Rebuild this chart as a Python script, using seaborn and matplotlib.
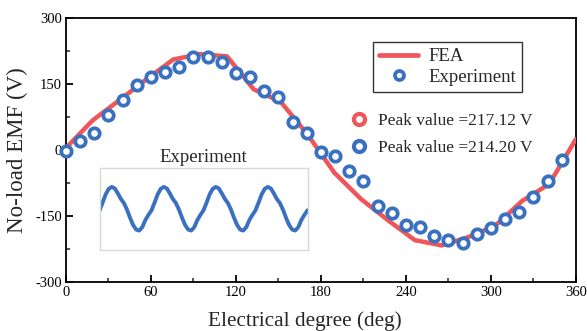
import matplotlib
matplotlib.use("Agg")
import matplotlib.pyplot as plt
import seaborn as sns
import pandas as pd
from matplotlib.lines import Line2D

# ---- data ----
fea_deg = [0, 18.9, 37.9, 56.8, 75.8, 94.7, 113.7, 132.6, 151.6, 170.5,
           189.5, 208.4, 227.4, 246.3, 265.3, 284.2, 303.2, 322.1, 341.1, 360]
fea_emf = [4, 67, 113, 160, 205, 217, 212, 137, 109, 35,
           -52, -112, -160, -205, -217, -198, -172, -116, -78, 24]

exp_deg = [0, 10, 20, 30, 40, 50, 60, 70, 80, 90, 100, 110, 120, 130, 140, 150, 160, 170,
           180, 190, 200, 210, 220, 230, 240, 250, 260, 270, 280, 290, 300, 310, 320, 330, 340, 350]
exp_emf = [-3, 19, 38, 78, 112, 148, 165, 176, 187, 210, 210, 199, 175, 165, 134, 120, 63, 38,
           -4, -14, -49, -71, -127, -143, -171, -176, -196, -205, -211, -192, -178, -157, -141, -106, -71, -23]

# inset waveform (sample index vs. measured EMF), read point by point
inset_v = [-20, 60, 140, 195, 214, 200, 150, 95, 55, -10, -90, -160, -205, -214, -180, -110, -60,
           -15, 60, 140, 195, 214, 200, 150, 95, 55, -10, -90, -160, -205, -214, -180, -110, -60,
           -15, 60, 140, 195, 214, 200, 150, 95, 55, -10, -90, -160, -205, -214, -180, -110, -60,
           -15, 60, 140, 195, 214, 200, 150, 95, 55, -10, -90, -160, -205, -214, -180, -110, -60,
           -15]
inset_t = list(range(len(inset_v)))

peak_labels = ["Peak value =217.12 V", "Peak value =214.20 V"]

x_ticks = [0, 60, 120, 180, 240, 300, 360]
y_ticks = [-300, -150, 0, 150, 300]

RED = "#ef5559"
BLUE = "#3a70c0"

sns.set_theme(style="white")
plt.rcParams["font.family"] = ["Liberation Serif", "DejaVu Serif"]
plt.rcParams["axes.unicode_minus"] = False

fig = plt.figure(figsize=(5.87, 3.31), dpi=100)
ax = fig.add_axes([0.1124, 0.148, 0.8686, 0.799])

fea_df = pd.DataFrame({"deg": fea_deg, "emf": fea_emf})
exp_df = pd.DataFrame({"deg": exp_deg, "emf": exp_emf})

sns.lineplot(data=fea_df, x="deg", y="emf", ax=ax, color=RED, lw=3.2,
             zorder=3, sort=False)
ax.plot(exp_df["deg"], exp_df["emf"], ls="none", marker="o", ms=7.5,
        mfc="white", mec=BLUE, mew=2.7, zorder=4, clip_on=False)

ax.set_xlim(0, 360)
ax.set_ylim(-300, 300)
ax.set_xticks(x_ticks)
ax.set_yticks(y_ticks)
ax.set_xticks(range(30, 360, 60), minor=True)
ax.set_yticks([-225, -75, 75, 225], minor=True)
ax.set_xticklabels([str(v) for v in x_ticks])
ax.set_yticklabels([str(v) for v in y_ticks])
ax.tick_params(axis="both", which="major", direction="in", length=5, width=1.3,
               labelsize=10.5, colors="black", bottom=True, left=True, top=False, right=False, pad=3)
ax.tick_params(axis="both", which="minor", direction="in", length=3, width=1.1,
               bottom=True, left=True, top=False, right=False)
for s in ax.spines.values():
    s.set_color("black")
    s.set_linewidth(1.3)
ax.set_xlabel("Electrical degree (deg)", fontsize=15.3)
ax.xaxis.set_label_coords(0.468, -0.11)
ax.set_ylabel("No-load EMF (V)", fontsize=16.5)
ax.yaxis.set_label_coords(-0.075, 0.5)

# legend
h1 = Line2D([], [], color=RED, lw=3.4)
h2 = Line2D([], [], ls="none", marker="o", ms=6.5, mfc="white", mec=BLUE, mew=2.7)
leg = ax.legend([h1, h2], ["FEA", "Experiment"], loc="upper left",
                bbox_to_anchor=(0.603, 0.906), fontsize=13.5, frameon=True, fancybox=False,
                edgecolor="black", handlelength=2.1, handletextpad=0.55,
                borderpad=0.3, labelspacing=0.2, borderaxespad=0)
leg.get_frame().set_linewidth(1.0)
ax.add_artist(leg)

p1 = Line2D([], [], ls="none", marker="o", ms=8, mfc="white", mec=RED, mew=3.0)
p2 = Line2D([], [], ls="none", marker="o", ms=8, mfc="white", mec=BLUE, mew=3.0)
ax.legend([p1, p2], peak_labels, loc="upper left", bbox_to_anchor=(0.545, 0.665),
          fontsize=12.5, frameon=False, handlelength=1.0, handletextpad=0.55,
          labelspacing=0.6, borderaxespad=0)

# inset
ins = fig.add_axes([99.5 / 587, 1 - 250 / 331, 208 / 587, 82.5 / 331])
sns.lineplot(x=inset_t, y=inset_v, ax=ins, color=BLUE, lw=2.8)
ins.set_xlim(0, len(inset_v) - 1)
ins.set_ylim(-405, 405)
ins.set_xticks([])
ins.set_yticks([])
ins.set_xlabel("")
ins.set_ylabel("")
for s in ins.spines.values():
    s.set_color("#d9d9d9")
    s.set_linewidth(1.0)
ins.set_title("Experiment", fontsize=13.5, pad=4)

fig.savefig("out.png", dpi=100)
